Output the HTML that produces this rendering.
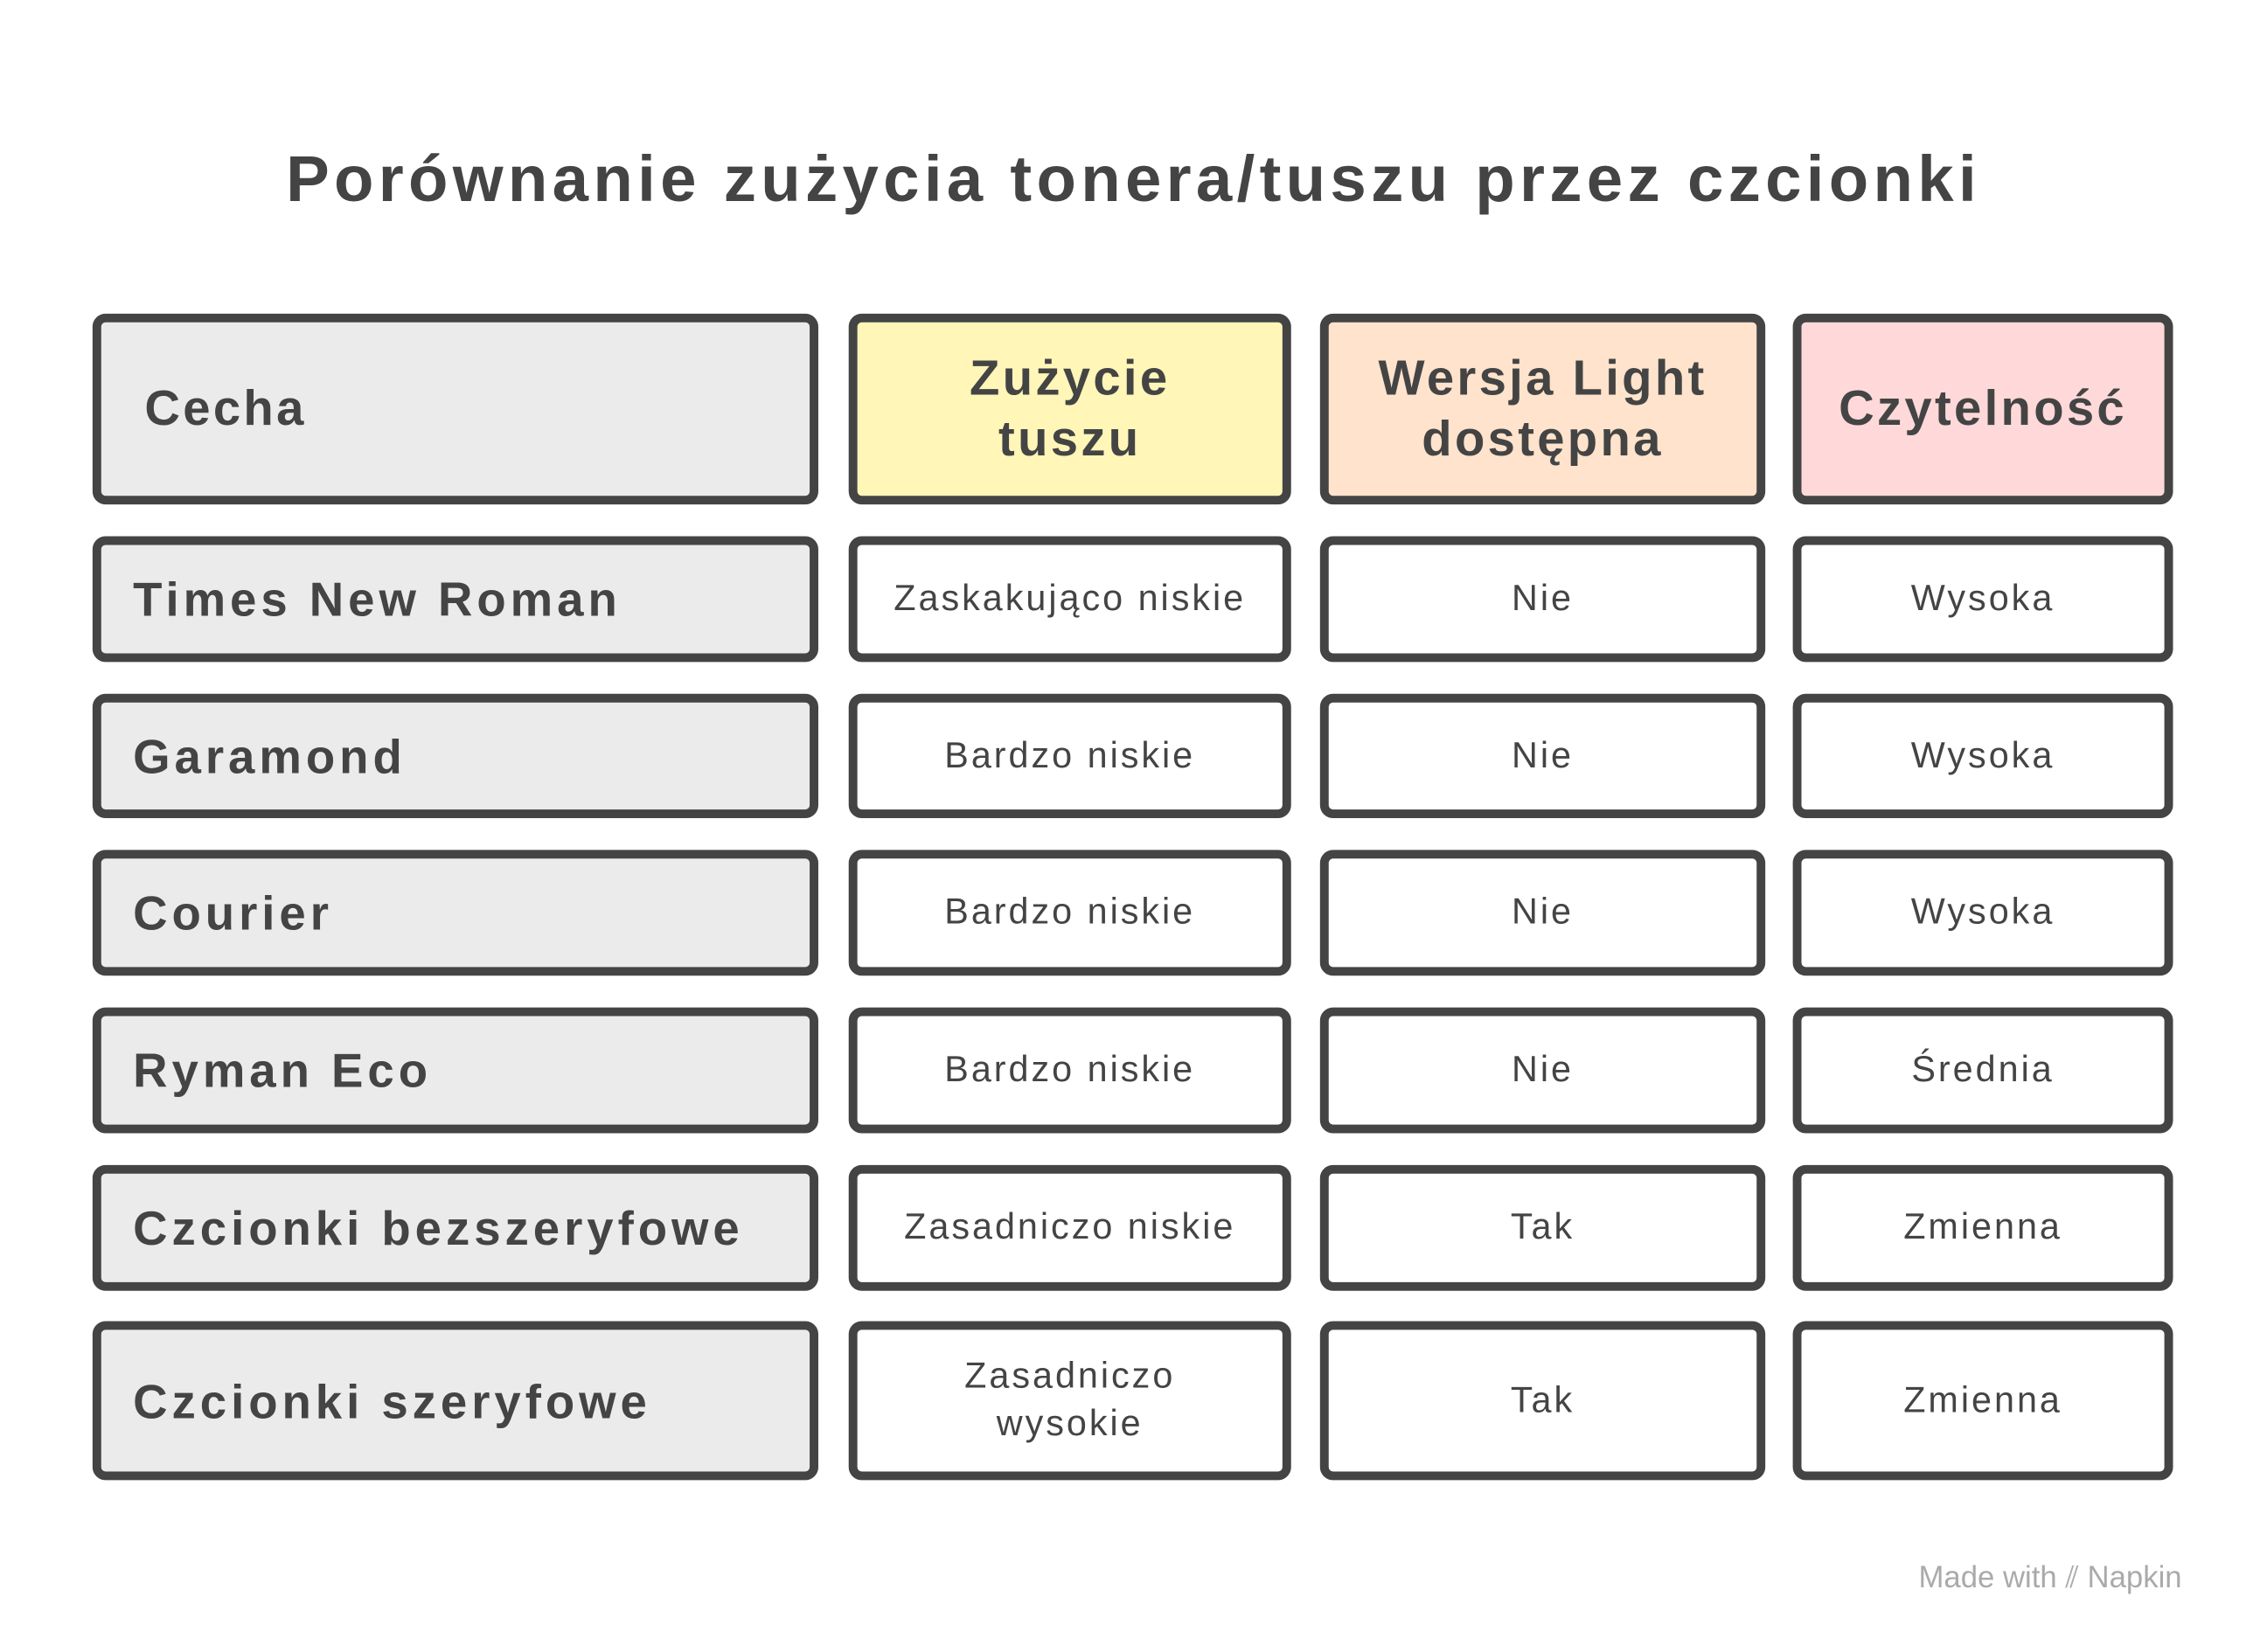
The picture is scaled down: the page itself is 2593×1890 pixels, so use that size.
<!DOCTYPE html>
<html><head><meta charset="utf-8"><style>
html,body{margin:0;padding:0;background:#fff;overflow:hidden}
body{width:2593px;height:1890px;position:relative}
#w{position:absolute;left:0;top:0;width:1568px;height:1143px;transform:scale(1.65370);transform-origin:0 0;font-family:"Liberation Sans",sans-serif;color:#444}
.t{position:absolute;left:0;width:1568px;top:98px;text-align:center;font-size:45px;font-weight:bold;letter-spacing:3.2px}
.c{position:absolute;box-sizing:border-box;border:6px solid #444;border-radius:9px;display:flex;align-items:center;justify-content:center;text-align:center;font-size:25px;line-height:33px;letter-spacing:1.8px}
.l{justify-content:flex-start;padding-left:22px;font-weight:bold;font-size:33px;letter-spacing:3px;background:#ebebeb;text-align:left}
.h{font-weight:bold;font-size:34px;line-height:42px;letter-spacing:2px}
.f{position:absolute;left:1327px;top:1080px;font-size:21px;color:#aaa}
</style></head><body><div id="w">
<div class="t">Porównanie zużycia tonera/tuszu przez czcionki</div>

<div class="c l h" style="left:64px;top:217px;width:502px;height:132px;padding-left:30px">Cecha</div>
<div class="c h" style="left:587px;top:217px;width:306px;height:132px;background:#fff6b8">Zużycie<br>tuszu</div>
<div class="c h" style="left:913px;top:217px;width:308px;height:132px;background:#ffe3cc">Wersja Light<br>dostępna</div>
<div class="c h" style="left:1240px;top:217px;width:263px;height:132px;background:#ffd9d9">Czytelność</div>

<div class="c l" style="left:64px;top:371px;width:502px;height:87px">Times New Roman</div>
<div class="c" style="left:587px;top:371px;width:306px;height:87px">Zaskakująco niskie</div>
<div class="c" style="left:913px;top:371px;width:308px;height:87px">Nie</div>
<div class="c" style="left:1240px;top:371px;width:263px;height:87px">Wysoka</div>

<div class="c l" style="left:64px;top:480px;width:502px;height:86px">Garamond</div>
<div class="c" style="left:587px;top:480px;width:306px;height:86px">Bardzo niskie</div>
<div class="c" style="left:913px;top:480px;width:308px;height:86px">Nie</div>
<div class="c" style="left:1240px;top:480px;width:263px;height:86px">Wysoka</div>

<div class="c l" style="left:64px;top:588px;width:502px;height:87px">Courier</div>
<div class="c" style="left:587px;top:588px;width:306px;height:87px">Bardzo niskie</div>
<div class="c" style="left:913px;top:588px;width:308px;height:87px">Nie</div>
<div class="c" style="left:1240px;top:588px;width:263px;height:87px">Wysoka</div>

<div class="c l" style="left:64px;top:697px;width:502px;height:87px">Ryman Eco</div>
<div class="c" style="left:587px;top:697px;width:306px;height:87px">Bardzo niskie</div>
<div class="c" style="left:913px;top:697px;width:308px;height:87px">Nie</div>
<div class="c" style="left:1240px;top:697px;width:263px;height:87px">Średnia</div>

<div class="c l" style="left:64px;top:806px;width:502px;height:87px">Czcionki bezszeryfowe</div>
<div class="c" style="left:587px;top:806px;width:306px;height:87px">Zasadniczo niskie</div>
<div class="c" style="left:913px;top:806px;width:308px;height:87px">Tak</div>
<div class="c" style="left:1240px;top:806px;width:263px;height:87px">Zmienna</div>

<div class="c l" style="left:64px;top:914px;width:502px;height:110px">Czcionki szeryfowe</div>
<div class="c" style="left:587px;top:914px;width:306px;height:110px">Zasadniczo<br>wysokie</div>
<div class="c" style="left:913px;top:914px;width:308px;height:110px">Tak</div>
<div class="c" style="left:1240px;top:914px;width:263px;height:110px">Zmienna</div>

<div class="f">Made with ⫽ Napkin</div>
</div></body></html>
